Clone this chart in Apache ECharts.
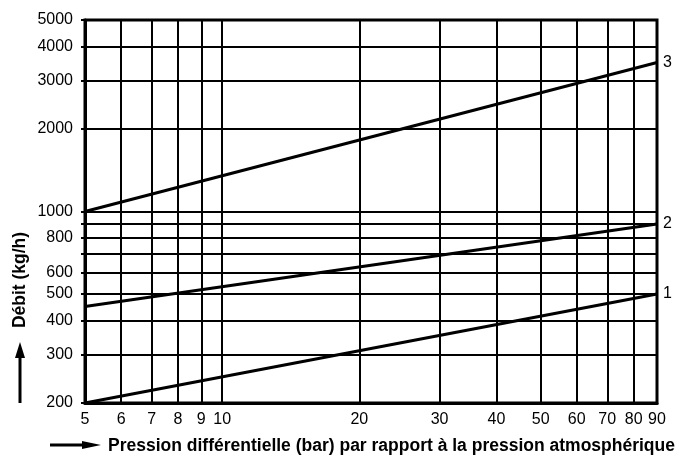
<!DOCTYPE html>
<html>
<head>
<meta charset="utf-8">
<script src="https://cdn.jsdelivr.net/npm/echarts@6/dist/echarts.min.js"></script>
<style>
  html, body { margin: 0; padding: 0; background: #fff; }
  #chart { width: 677px; height: 458px; }
</style>
</head>
<body>
<div id="chart"></div>
<script>
// Pressure (bar) tick values and labels
const pressureTicks = [5, 6, 7, 8, 9, 10, 20, 30, 40, 50, 60, 70, 80, 90];
// Flow (kg/h) grid lines and labelled values
const flowGrid = [200, 300, 400, 500, 600, 700, 800, 900, 1000, 2000, 3000, 4000, 5000];
const flowLabels = [200, 300, 400, 500, 600, 800, 1000, 2000, 3000, 4000, 5000];

// Curves: flow vs differential pressure
const curveNames = ['1', '2', '3'];
const curve1 = [[5, 200], [90, 500]];
const curve2 = [[5, 450], [90, 900]];
const curve3 = [[5, 1000], [90, 3500]];

const FONT = '"Liberation Sans", Arial, sans-serif';

const chart = echarts.init(document.getElementById('chart'));

const lineSeries = [curve1, curve2, curve3].map((d, i) => ({
  name: curveNames[i],
  type: 'line',
  data: d,
  symbol: 'none',
  lineStyle: { color: '#000', width: 3 },
  z: 5,
  endLabel: {
    show: true,
    formatter: '{a}',
    color: '#000',
    fontSize: 16,
    fontFamily: FONT,
    distance: 6
  }
}));

chart.setOption({
  animation: false,
  grid: {
    left: 85, right: 20, top: 20, bottom: 55,
    show: true, borderColor: '#000', borderWidth: 3
  },
  xAxis: {
    type: 'log', logBase: 10, min: 5, max: 90,
    axisLine: { show: true, lineStyle: { color: '#000', width: 3 } },
    axisTick: { show: false, customValues: pressureTicks },
    axisLabel: {
      customValues: pressureTicks,
      formatter: v => String(v),
      color: '#000', fontSize: 16, fontFamily: FONT, margin: 9
    },
    splitLine: { show: true, lineStyle: { color: '#000', width: 2 } },
    minorSplitLine: { show: false }
  },
  yAxis: {
    type: 'log', logBase: 10, min: 200, max: 5000,
    axisLine: { show: true, lineStyle: { color: '#000', width: 3 } },
    axisTick: { show: true, inside: false, length: 4, customValues: flowGrid,
                lineStyle: { color: '#000', width: 2 } },
    axisLabel: {
      customValues: flowLabels,
      formatter: v => String(v),
      color: '#000', fontSize: 16, fontFamily: FONT, margin: 12
    },
    splitLine: { show: true, lineStyle: { color: '#000', width: 2 } }
  },
  graphic: [
    {
      type: 'text',
      x: 20, y: 280, rotation: Math.PI / 2,
      style: {
        text: 'Débit (kg/h)', fill: '#000',
        font: 'bold 17.5px ' + FONT,
        align: 'center', verticalAlign: 'middle'
      }
    },
    {
      type: 'line',
      shape: { x1: 20, y1: 403, x2: 20, y2: 352 },
      style: { stroke: '#000', lineWidth: 3 }
    },
    {
      type: 'polygon',
      shape: { points: [[20, 342], [15, 358], [25, 358]] },
      style: { fill: '#000' }
    },
    {
      type: 'text',
      x: 108, y: 446,
      style: {
        text: 'Pression différentielle (bar) par rapport à la pression atmosphérique',
        fill: '#000', font: 'bold 17.5px ' + FONT,
        align: 'left', verticalAlign: 'middle'
      }
    },
    {
      type: 'line',
      shape: { x1: 50, y1: 445, x2: 86, y2: 445 },
      style: { stroke: '#000', lineWidth: 3 }
    },
    {
      type: 'polygon',
      shape: { points: [[101, 445], [82, 441], [82, 449]] },
      style: { fill: '#000' }
    }
  ],
  series: lineSeries
});
</script>
</body>
</html>
